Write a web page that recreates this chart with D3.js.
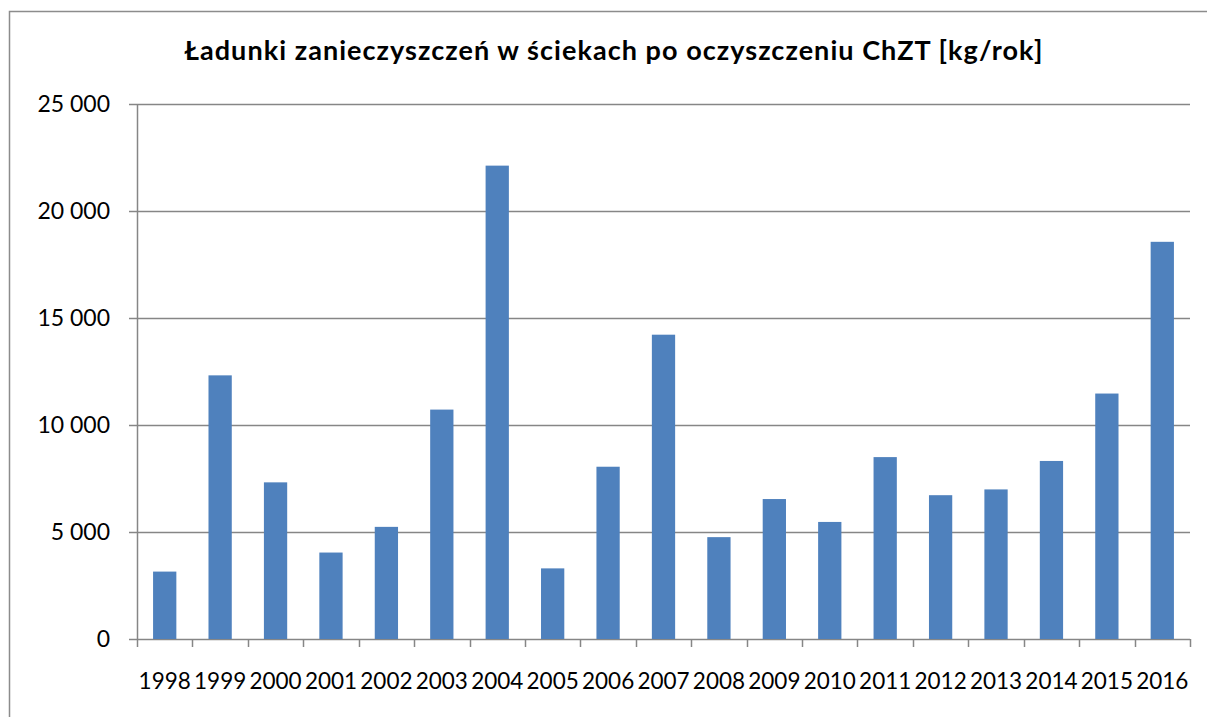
<!DOCTYPE html>
<html>
<head>
<meta charset="utf-8">
<script src="https://cdn.jsdelivr.net/npm/d3@7"></script>
<style>
  body { margin: 0; background: #fff; }
  svg text { font-family: Lato, "Noto Sans", sans-serif; fill: #000; }
</style>
</head>
<body>
<svg id="chart" width="1207" height="717"></svg>
<script>
// lata i ladunki ChZT [kg/rok]
var years = ['1998', '1999', '2000', '2001', '2002', '2003', '2004', '2005', '2006', '2007',
  '2008', '2009', '2010', '2011', '2012', '2013', '2014', '2015', '2016'];
var chzt = [3150, 12320, 7320, 4040, 5240, 10720, 22120, 3300, 8050, 14220,
  4760, 6540, 5470, 8500, 6720, 6990, 8320, 11470, 18560];
var y_ticks = [0, 5000, 10000, 15000, 20000, 25000];
var title = 'Ładunki zanieczyszczeń w ściekach po oczyszczeniu ChZT [kg/rok]';

var svg = d3.select("#chart");
var plot_left = 137, plot_right = 1190, plot_top = 104, plot_bottom = 639;
var grid_col = "#868686";

// ramka wykresu (ucieta z prawej i dolu)
svg.append("path")
  .attr("d", "M9.5,718 V11.5 H1208")
  .attr("fill", "none")
  .attr("stroke", "#8c8c8c")
  .attr("stroke-width", 1.5);

svg.append("text")
  .text(title)
  .attr("x", 614)
  .attr("y", 60)
  .attr("text-anchor", "middle")
  .style("font-weight", "bold")
  .style("font-size", "27px")
  .style("letter-spacing", "1.05px");

var x = d3.scaleBand().domain(years).range([plot_left, plot_right]).paddingInner(0.58).paddingOuter(0.29);
var y = d3.scaleLinear().domain([0, 25000]).range([plot_bottom, plot_top]);

// linie siatki
svg.append("g")
  .selectAll("line")
  .data(y_ticks)
  .enter()
  .append("line")
  .attr("x1", plot_left - 8)
  .attr("x2", plot_right)
  .attr("y1", function(d){ return Math.round(y(d)) + 0.5; })
  .attr("y2", function(d){ return Math.round(y(d)) + 0.5; })
  .attr("stroke", grid_col)
  .attr("stroke-width", 1.5);

svg.append("g")
  .selectAll("text")
  .data(y_ticks)
  .enter()
  .append("text")
  .text(function(d){ return d3.format(",")(d).replace(/,/g, " "); })
  .attr("x", 110)
  .attr("y", function(d){ return y(d) + 8; })
  .attr("text-anchor", "end")
  .style("font-size", "23px");

// slupki
svg.append("g")
  .selectAll("rect")
  .data(chzt)
  .enter()
  .append("rect")
  .attr("x", function(d, i){ return x(years[i]); })
  .attr("y", function(d){ return y(d); })
  .attr("width", x.bandwidth())
  .attr("height", function(d){ return y(0) - y(d); })
  .attr("fill", "#4f81bd");

// os Y
svg.append("line")
  .attr("x1", plot_left + 0.5).attr("x2", plot_left + 0.5)
  .attr("y1", plot_top).attr("y2", plot_bottom)
  .attr("stroke", grid_col).attr("stroke-width", 1.5);

// os X z podzialka miedzy kategoriami
var xAxis = d3.axisBottom(x).tickSize(0).tickPadding(34);
var gx = svg.append("g")
  .attr("transform", "translate(0," + (Math.round(y(0)) + 0.5) + ")")
  .call(xAxis);
gx.select(".domain").remove();
gx.selectAll("text")
  .style("font-size", "22.5px")
  .attr("dy", "0.71em");
gx.attr("font-family", null).attr("font-size", null);

var step = x.step();
var bounds = d3.range(years.length + 1).map(function(i){ return plot_left + i * step; });
svg.append("g")
  .selectAll("line")
  .data(bounds)
  .enter()
  .append("line")
  .attr("x1", function(d){ return Math.round(d) + 0.5; })
  .attr("x2", function(d){ return Math.round(d) + 0.5; })
  .attr("y1", plot_bottom)
  .attr("y2", plot_bottom + 8)
  .attr("stroke", grid_col)
  .attr("stroke-width", 1.5);
</script>
</body>
</html>
